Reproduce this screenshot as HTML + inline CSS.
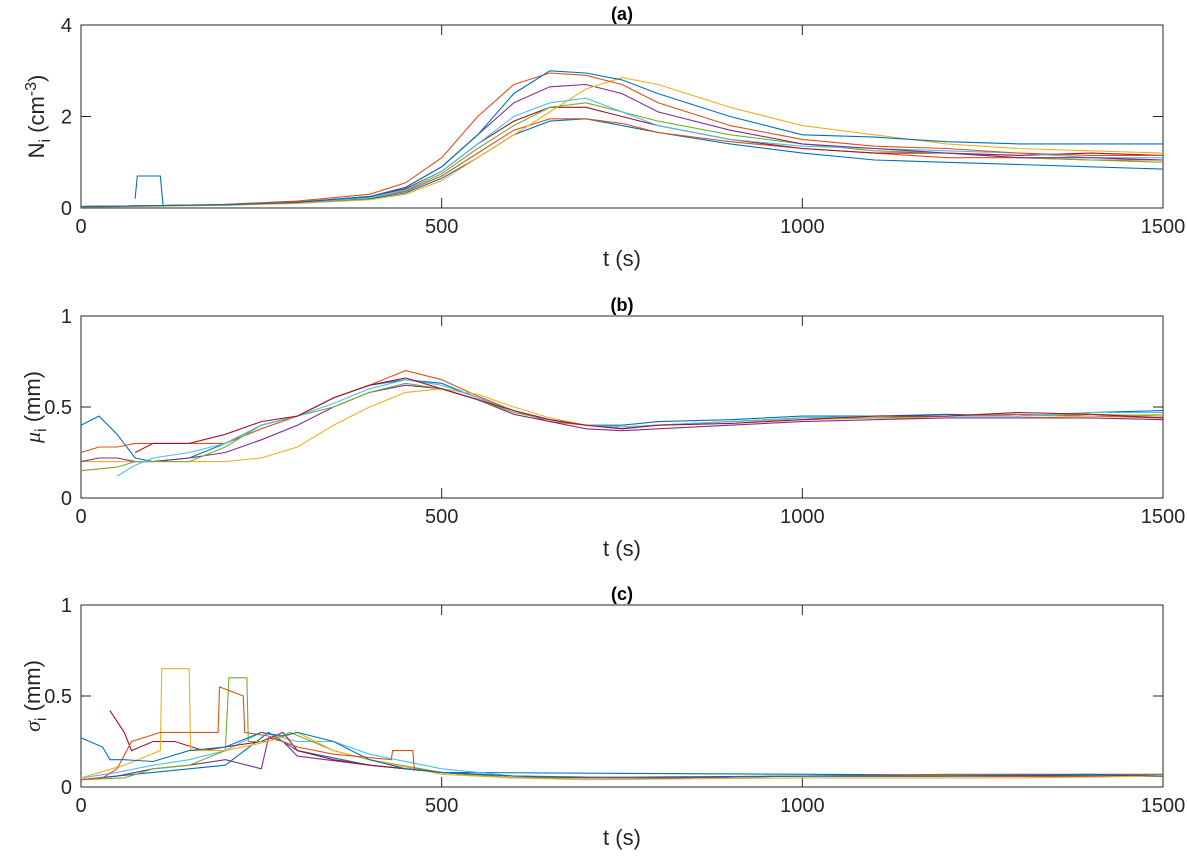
<!DOCTYPE html>
<html><head><meta charset="utf-8"><style>body{margin:0;background:#fff}svg{display:block;font-family:"Liberation Sans",sans-serif}</style></head>
<body>
<svg id="fig" width="1187" height="856" viewBox="0 0 1187 856"></svg>
<script>
// Panel (a)
const aT=[0,100,200,300,400,450,500,550,600,650,700,750,800,900,1000,1100,1200,1300,1400,1500];
const aBlue1=[.03,.05,.07,.12,.25,.45,.9,1.6,2.5,3.0,2.95,2.8,2.5,2.0,1.6,1.55,1.45,1.4,1.4,1.4];
const aOrange1=[.03,.05,.08,.15,.3,.55,1.1,2.0,2.7,2.95,2.9,2.7,2.3,1.8,1.5,1.35,1.3,1.2,1.15,1.15];
const aYellow=[.02,.04,.06,.1,.18,.3,.6,1.1,1.6,2.1,2.6,2.85,2.7,2.2,1.8,1.6,1.4,1.3,1.25,1.2];
const aPurple=[.03,.05,.07,.13,.25,.45,.9,1.6,2.3,2.65,2.7,2.5,2.1,1.7,1.4,1.3,1.2,1.1,1.1,1.05];
const aGreen=[.03,.05,.07,.12,.22,.38,.75,1.3,1.8,2.2,2.3,2.1,1.9,1.6,1.4,1.25,1.2,1.1,1.05,1.0];
const aCyan=[.03,.05,.07,.12,.22,.4,.8,1.4,2.0,2.3,2.4,2.1,1.8,1.5,1.35,1.3,1.25,1.2,1.1,1.1];
const aRed=[.03,.05,.07,.12,.25,.42,.8,1.4,1.9,2.2,2.2,2.0,1.8,1.5,1.3,1.2,1.2,1.15,1.2,1.15];
const aBlue2=[.03,.05,.07,.11,.2,.33,.65,1.1,1.6,1.9,1.95,1.8,1.65,1.4,1.2,1.05,1.0,.95,.9,.85];
const aOrange2=[.03,.05,.07,.12,.22,.36,.7,1.2,1.7,1.95,1.95,1.85,1.65,1.45,1.3,1.2,1.1,1.1,1.05,1.05];
const aSpikeT=[75,78,110,114];
const aSpikeV=[.2,.7,.7,.03];
// Panel (b)
const bT=[0,25,50,75,100,150,200,250,300,350,400,450,500,550,600,650,700,750,800,900,1000,1100,1200,1300,1400,1500];
const bBlue=[.4,.45,.35,.22,.2,.22,.3,.4,.45,.55,.62,.65,.63,.55,.48,.43,.4,.4,.42,.43,.45,.45,.46,.45,.47,.48];
const bOrange=[.25,.28,.28,.3,.3,.3,.3,.38,.45,.55,.62,.7,.65,.56,.48,.42,.4,.38,.4,.42,.44,.44,.45,.46,.45,.44];
const bYellow=[.2,.2,.2,.2,.2,.2,.2,.22,.28,.4,.5,.58,.6,.57,.5,.44,.4,.39,.4,.42,.43,.44,.44,.44,.45,.46];
const bPurple=[.2,.22,.22,.2,.2,.22,.25,.32,.4,.5,.58,.62,.6,.54,.46,.42,.38,.37,.38,.4,.42,.43,.44,.44,.44,.43];
const bGreen=[.15,.16,.17,.2,.2,.2,.28,.4,.45,.5,.58,.63,.6,.54,.47,.43,.4,.39,.4,.42,.44,.44,.45,.45,.46,.45];
const bCyan=[null,null,.12,.18,.22,.25,.3,.4,.45,.52,.6,.65,.62,.55,.48,.43,.4,.39,.4,.42,.44,.45,.45,.45,.47,.47];
const bRed=[null,null,null,.25,.3,.3,.35,.42,.45,.55,.62,.66,.6,.54,.48,.43,.4,.38,.4,.41,.43,.45,.45,.47,.46,.44];
// Panel (c)
const cBlueT=[0,30,40,60,100,150,200,250,280,300,350,400,450,500,600,700,800,1000,1200,1400,1500];
const cBlueV=[.27,.22,.15,.15,.14,.2,.22,.3,.28,.3,.25,.15,.1,.08,.06,.05,.05,.06,.06,.07,.06];
const cOrangeT=[0,30,50,70,110,150,190,192,225,227,260,300,350,430,432,460,462,500,600,800,1000,1200,1500];
const cOrangeV=[.04,.05,.1,.25,.3,.3,.3,.55,.5,.3,.28,.22,.18,.15,.2,.2,.1,.08,.06,.05,.06,.07,.07];
const cYellowT=[0,60,110,112,150,152,200,260,300,350,400,500,600,700,1000,1300,1500];
const cYellowV=[.05,.12,.2,.65,.65,.2,.2,.25,.3,.2,.15,.07,.05,.04,.05,.05,.06];
const cPurpleT=[0,50,100,150,200,250,260,280,300,400,500,600,800,1000,1500];
const cPurpleV=[.04,.06,.1,.12,.15,.1,.27,.25,.17,.12,.08,.05,.05,.06,.06];
const cGreenT=[0,60,100,150,200,205,230,232,260,290,350,400,500,600,800,1000,1500];
const cGreenV=[.04,.05,.1,.12,.2,.6,.6,.25,.25,.3,.2,.15,.08,.05,.05,.06,.07];
const cCyanT=[0,50,100,150,200,250,300,350,400,500,600,800,1000,1500];
const cCyanV=[.05,.08,.12,.15,.2,.3,.25,.25,.18,.1,.06,.05,.06,.06];
const cRedT=[40,60,70,100,130,170,200,250,280,300,350,400,500,600,1000,1500];
const cRedV=[.42,.3,.2,.25,.25,.2,.22,.25,.3,.2,.15,.12,.08,.05,.06,.06];
const cBlue2T=[0,100,200,260,300,400,500,1500];
const cBlue2V=[.04,.08,.12,.3,.2,.12,.08,.06];
const xTicks=[0,500,1000,1500];

const C={blue:'#0072BD',orange:'#D95319',yellow:'#EDB120',purple:'#7E2F8E',green:'#77AC30',cyan:'#4DBEEE',red:'#A2142F'};
const NS='http://www.w3.org/2000/svg';
const svg=document.getElementById('fig');
const L=81,R=1163;
function mk(tag,attrs,parent){const e=document.createElementNS(NS,tag);for(const k in attrs)e.setAttribute(k,attrs[k]);(parent||svg).appendChild(e);return e;}
function panel(id,top,bot,ymax,yTicks,title,ylabelHTML){
  const g=mk('g',{});
  
  
  const xs=t=>L+(R-L)*t/1500, ys=v=>bot-(bot-top)*v/ymax;
  const box=mk('rect',{x:L,y:top,width:R-L,height:bot-top,fill:'#fff',stroke:'#262626','stroke-width':1},g);
  
  
  xTicks.forEach(t=>{
    mk('line',{x1:xs(t),x2:xs(t),y1:bot,y2:bot-10,stroke:'#262626'},g);
    mk('line',{x1:xs(t),x2:xs(t),y1:top,y2:top+10,stroke:'#262626'},g);
    const tx=mk('text',{x:xs(t),y:bot+25,'text-anchor':'middle','font-size':20,fill:'#262626'},g);
    tx.textContent=t;
    
    
  });
  yTicks.forEach(v=>{
    mk('line',{x1:L,x2:L+10,y1:ys(v),y2:ys(v),stroke:'#262626'},g);
    mk('line',{x1:R,x2:R-10,y1:ys(v),y2:ys(v),stroke:'#262626'},g);
    const tx=mk('text',{x:L-9,y:ys(v)+7,'text-anchor':'end','font-size':20,fill:'#262626'},g);
    tx.textContent=v;
    
    
  });
  const tt=mk('text',{x:(L+R)/2,y:top-5,'text-anchor':'middle','font-size':18,'font-weight':'bold',fill:'#000'},g);
  tt.textContent=title;
  
  
  const xl=mk('text',{x:(L+R)/2,y:bot+58,'text-anchor':'middle','font-size':22,fill:'#262626'},g);
  xl.textContent='t (s)';
  
  
  const yl=mk('text',{transform:`translate(${id==='a'?44:40},${(top+bot)/2}) rotate(-90)`,'text-anchor':'middle','font-size':22,fill:'#262626'},g);
  yl.innerHTML=ylabelHTML;
  
  
  return {g,xs,ys};
}
function line(p,T,V,color,name){
  let d='',pen=false;
  T.forEach((t,i)=>{const v=V[i];if(v==null){pen=false;return;}d+=(pen?'L':'M')+p.xs(t).toFixed(1)+','+p.ys(v).toFixed(1);pen=true;});
  const e=mk('path',{d,fill:'none',stroke:color,'stroke-width':1.1},p.g);
  
  
}
const pa=panel('a',25,208,4,[0,2,4],'(a)','N<tspan font-size="16" dy="6">i</tspan><tspan dy="-6"> (cm</tspan><tspan font-size="16" dy="-8">-3</tspan><tspan dy="8">)</tspan>');
[[aBlue2,C.blue],[aOrange2,C.orange],[aRed,C.red],[aGreen,C.green],[aCyan,C.cyan],[aPurple,C.purple],[aYellow,C.yellow],[aOrange1,C.orange],[aBlue1,C.blue]].forEach(([v,c],i)=>line(pa,aT,v,c,'series-a-'+i));
line(pa,aSpikeT,aSpikeV,C.blue,'series-a-spike');
const pb=panel('b',316,498,1,[0,0.5,1],'(b)','<tspan font-family="Liberation Serif" font-style="italic">μ</tspan><tspan font-size="16" dy="6">i</tspan><tspan dy="-6"> (mm)</tspan>');
[[bBlue,C.blue],[bOrange,C.orange],[bYellow,C.yellow],[bPurple,C.purple],[bGreen,C.green],[bCyan,C.cyan],[bRed,C.red]].forEach(([v,c],i)=>line(pb,bT,v,c,'series-b-'+i));
const pc=panel('c',605,787,1,[0,0.5,1],'(c)','<tspan font-family="Liberation Serif" font-style="italic">σ</tspan><tspan font-size="16" dy="6">i</tspan><tspan dy="-6"> (mm)</tspan>');
[[cBlue2T,cBlue2V,C.blue],[cPurpleT,cPurpleV,C.purple],[cCyanT,cCyanV,C.cyan],[cRedT,cRedV,C.red],[cGreenT,cGreenV,C.green],[cYellowT,cYellowV,C.yellow],[cOrangeT,cOrangeV,C.orange],[cBlueT,cBlueV,C.blue]].forEach(([t,v,c],i)=>line(pc,t,v,c,'series-c-'+i));
</script>
</body></html>
